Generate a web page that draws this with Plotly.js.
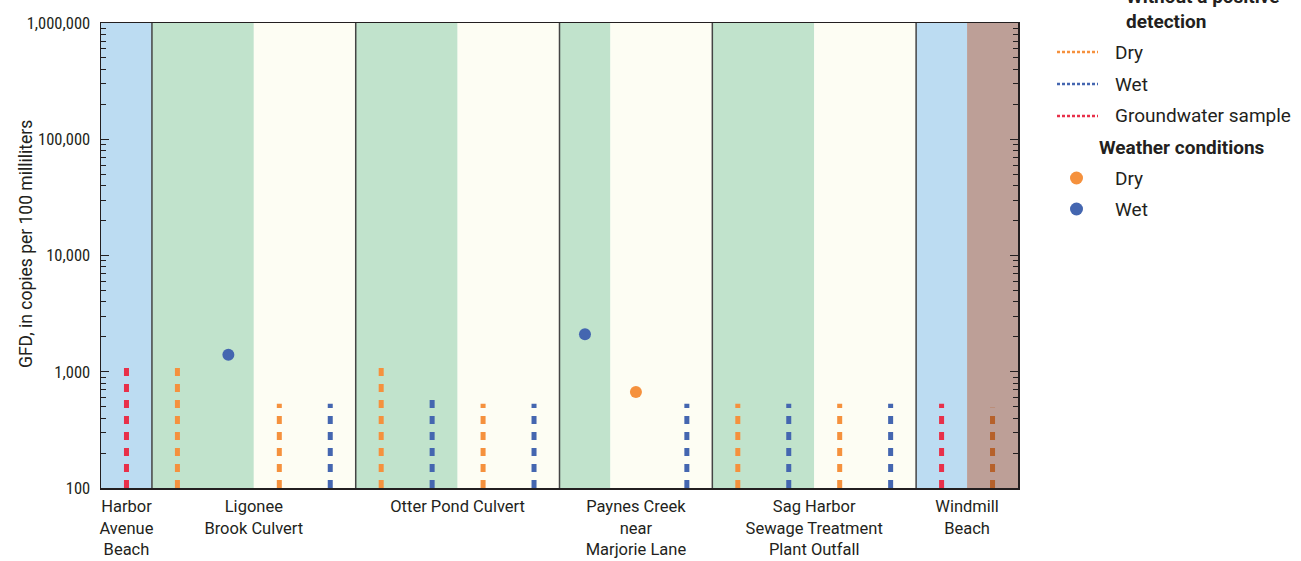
<!DOCTYPE html>
<html>
<head>
<meta charset="utf-8">
<script src="https://cdn.plot.ly/plotly-3.0.1.min.js"></script>
<style>
  html, body { margin: 0; padding: 0; background: #fff; }
  #chart { width: 1301px; height: 561px; }
</style>
</head>
<body>
<div id="chart"></div>
<script>
// Sampling sites and their column spans (one column per sample slot)
const siteLabels = [
  'Harbor<br>Avenue<br>Beach',
  'Ligonee<br>Brook Culvert',
  'Otter Pond Culvert',
  'Paynes Creek<br>near<br>Marjorie Lane',
  'Sag Harbor<br>Sewage Treatment<br>Plant Outfall',
  'Windmill<br>Beach'
];
const siteStart = [0, 1, 5, 9, 12, 16];
const siteEnd   = [1, 5, 9, 12, 16, 18];

// Samples without a positive detection (bar height = reporting limit), by slot index
const ndDrySlots = [1, 3, 5, 7, 12, 14];
const ndDryValues = [1080, 530, 1080, 530, 530, 530];
const ndWetSlots = [4, 6, 8, 11, 13, 15];
const ndWetValues = [530, 670, 530, 530, 530, 530];
const ndGroundSlots = [0, 16];
const ndGroundValues = [1080, 530];
const ndOtherSlots = [17];
const ndOtherValues = [490];

// Positive detections by weather condition
const detWetSlots = [2, 9];
const detWetValues = [1400, 2100];
const detDrySlots = [10];
const detDryValues = [670];

// Y axis ticks
const yTickVals = [100, 1000, 10000, 100000, 1000000];
const yTickText = ['100', '1,000', '10,000', '100,000', '1,000,000'];

const NARROW = '"Roboto Condensed", "Liberation Sans Narrow", "DejaVu Sans Condensed", Arial, sans-serif';
const TEXT = 'Roboto, "Liberation Sans", Arial, sans-serif';
const INK = '#231f20';
const C = {
  orange: '#f5913d', blue: '#4466b0', red: '#e8304a', brown: '#b6612b',
  pBlue: '#bcdcf2', pGreen: '#c1e3cc', pCream: '#fdfdf3', pBrown: '#bd9f97'
};

// Background bands behind each slot group
const bands = [
  [0, 1, C.pBlue], [1, 3, C.pGreen], [3, 5, C.pCream], [5, 7, C.pGreen], [7, 9, C.pCream],
  [9, 10, C.pGreen], [10, 12, C.pCream], [12, 14, C.pGreen], [14, 16, C.pCream],
  [16, 17, C.pBlue], [17, 18, C.pBrown]
];

function barTrace(slots, values, color) {
  const x = [], y = [];
  slots.forEach((s, i) => {
    x.push(s + 0.5, s + 0.5, null);
    y.push(100, values[i], null);
  });
  return {
    type: 'scatter', mode: 'lines', x, y, showlegend: false, hoverinfo: 'skip',
    line: { color, width: 5, dash: '8px,8px' }
  };
}
function dotTrace(slots, values, color) {
  return {
    type: 'scatter', mode: 'markers', x: slots.map(s => s + 0.5), y: values,
    showlegend: false, marker: { color, size: 12, line: { width: 0 } }, cliponaxis: false
  };
}

const traces = [
  barTrace(ndGroundSlots, ndGroundValues, C.red),
  barTrace(ndDrySlots, ndDryValues, C.orange),
  barTrace(ndWetSlots, ndWetValues, C.blue),
  barTrace(ndOtherSlots, ndOtherValues, C.brown),
  dotTrace(detWetSlots, detWetValues, C.blue),
  dotTrace(detDrySlots, detDryValues, C.orange)
];

// Plot area geometry, used to place the key and axis title in paper units
const M = { l: 101, r: 283, t: 23, b: 73 };
const W = 1301, H = 561;
const PW = W - M.l - M.r, PH = H - M.t - M.b;
const px = v => (v - M.l) / PW;
const py = v => (H - M.b - v) / PH;

const shapes = [];
bands.forEach(b => shapes.push({
  type: 'rect', xref: 'x', yref: 'paper', x0: b[0], x1: b[1], y0: 0, y1: 1,
  fillcolor: b[2], line: { width: 0 }, layer: 'below'
}));
siteEnd.slice(0, -1).forEach(x => shapes.push({
  type: 'line', xref: 'x', yref: 'paper', x0: x, x1: x, y0: 0, y1: 1,
  line: { color: '#444', width: 1.5 }, layer: 'above'
}));

// Key
const keyFont = { family: TEXT, size: 19, color: INK };
const keyLines = [[52, C.orange, 'Dry'], [84, C.blue, 'Wet'], [116, C.red, 'Groundwater sample']];
const keyDots = [[178, C.orange, 'Dry'], [209, C.blue, 'Wet']];
const annotations = [];
keyLines.forEach(k => {
  shapes.push({
    type: 'line', xref: 'paper', yref: 'paper', x0: px(1057), x1: px(1098), y0: py(k[0]), y1: py(k[0]),
    line: { color: k[1], width: 2.5, dash: '3px,2px' }
  });
  annotations.push({ xref: 'paper', yref: 'paper', x: px(1113), y: py(k[0]), xanchor: 'left', yanchor: 'middle',
    text: k[2], showarrow: false, font: keyFont });
});
keyDots.forEach(k => {
  shapes.push({
    type: 'circle', xref: 'paper', yref: 'paper', x0: px(1070), x1: px(1083), y0: py(k[0] + 6.5), y1: py(k[0] - 6.5),
    fillcolor: k[1], line: { width: 0 }
  });
  annotations.push({ xref: 'paper', yref: 'paper', x: px(1113), y: py(k[0]), xanchor: 'left', yanchor: 'middle',
    text: k[2], showarrow: false, font: keyFont });
});
annotations.push({ xref: 'paper', yref: 'paper', x: px(1124), y: py(35), xanchor: 'left', yanchor: 'bottom',
  align: 'left', text: '<b>Without a positive<br>detection</b>', showarrow: false, font: keyFont });
annotations.push({ xref: 'paper', yref: 'paper', x: px(1097), y: py(147), xanchor: 'left', yanchor: 'middle',
  text: '<b>Weather conditions</b>', showarrow: false, font: keyFont });

// Y axis title
annotations.push({ xref: 'paper', yref: 'paper', x: px(26), y: py(244), xanchor: 'center', yanchor: 'middle',
  textangle: -90, text: 'GFD, in copies per 100 milliliters', showarrow: false,
  font: { family: TEXT, size: 17.5, color: INK } });

const layout = {
  width: W, height: H,
  margin: M,
  paper_bgcolor: '#fff', plot_bgcolor: '#fff',
  showlegend: false,
  font: { family: TEXT, size: 16, color: INK },
  xaxis: {
    range: [0, 18], fixedrange: true, showgrid: false, zeroline: false,
    tickvals: siteStart.map((s, i) => (s + siteEnd[i]) / 2), ticktext: siteLabels,
    ticks: '', showline: true, linecolor: INK, linewidth: 1.5, mirror: true,
    ticklabelstandoff: 3,
    tickfont: { family: TEXT, size: 16.5, color: INK }
  },
  yaxis: {
    type: 'log', range: [2, 6], fixedrange: true, showgrid: false, zeroline: false,
    tickvals: yTickVals, ticktext: yTickText,
    ticks: 'inside', ticklen: 8, tickwidth: 1.2, tickcolor: INK,
    minor: { ticks: 'inside', ticklen: 5, tickwidth: 1, tickcolor: INK, dtick: 'D1', showgrid: false },
    showline: true, linecolor: INK, linewidth: 1.5, mirror: 'ticks',
    ticklabelposition: 'outside', ticklabelstandoff: 6,
    tickfont: { family: NARROW, size: 16.5, color: INK }
  },
  shapes, annotations
};

Plotly.newPlot('chart', traces, layout, { staticPlot: true, displayModeBar: false });
</script>
</body>
</html>
